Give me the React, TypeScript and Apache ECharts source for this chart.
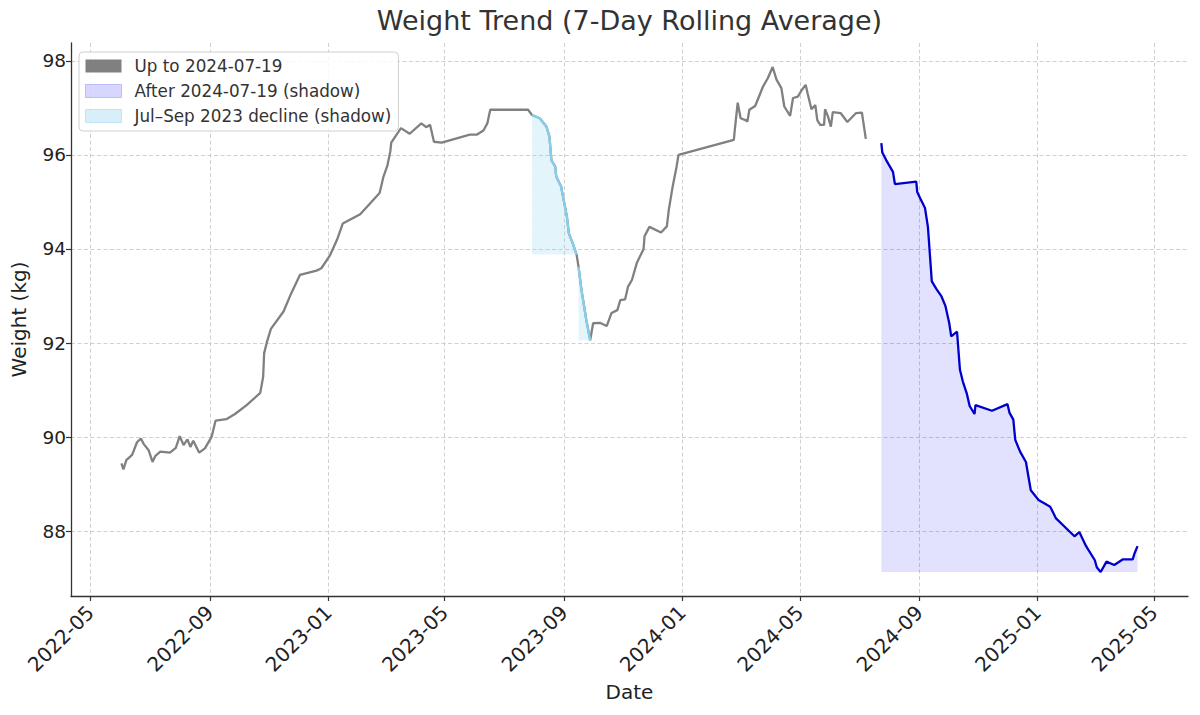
import { useEffect, useRef } from "react";
import * as echarts from "echarts";

const FONT = "DejaVu Sans";

// Gray line before the Jul–Sep 2023 decline
const preDates = [
  "2022-06-02", "2022-06-04", "2022-06-07", "2022-06-13", "2022-06-18", "2022-06-22", "2022-06-25", "2022-06-30",
  "2022-07-04", "2022-07-07", "2022-07-12", "2022-07-22", "2022-07-28", "2022-08-01", "2022-08-05", "2022-08-09",
  "2022-08-12", "2022-08-15", "2022-08-21", "2022-08-27", "2022-09-03", "2022-09-07", "2022-09-18", "2022-09-27",
  "2022-10-09", "2022-10-23", "2022-10-26", "2022-10-27", "2022-10-30", "2022-11-03", "2022-11-16", "2022-11-24",
  "2022-12-03", "2022-12-20", "2022-12-25", "2023-01-03", "2023-01-10", "2023-01-16", "2023-02-03", "2023-02-23",
  "2023-02-27", "2023-03-03", "2023-03-06", "2023-03-07", "2023-03-17", "2023-03-26", "2023-04-07", "2023-04-12",
  "2023-04-16", "2023-04-20", "2023-04-28", "2023-05-27", "2023-06-03", "2023-06-10", "2023-06-14", "2023-06-17",
  "2023-07-26",
];
const preWeights = [
  89.44, 89.31, 89.51, 89.62, 89.89, 89.97, 89.85, 89.72,
  89.47, 89.6, 89.69, 89.67, 89.77, 90.02, 89.83, 89.95,
  89.79, 89.92, 89.67, 89.76, 90.01, 90.35, 90.38, 90.49,
  90.68, 90.94, 91.28, 91.78, 92.03, 92.3, 92.67, 93.06,
  93.45, 93.54, 93.59, 93.87, 94.19, 94.54, 94.74, 95.19,
  95.54, 95.77, 96.07, 96.26, 96.57, 96.45, 96.67, 96.59,
  96.64, 96.28, 96.26, 96.43, 96.43, 96.52, 96.67, 96.96,
  96.96,
];

// Jul–Sep 2023 decline (two shaded stretches)
const declineADates = [
  "2023-07-30", "2023-08-07", "2023-08-14", "2023-08-17", "2023-08-19", "2023-08-23", "2023-08-24",
  "2023-08-29", "2023-09-02", "2023-09-04", "2023-09-06", "2023-09-10", "2023-09-14",
];
const declineAWeights = [96.85, 96.78, 96.6, 96.39, 95.89, 95.75, 95.54, 95.33, 94.9, 94.69, 94.33, 94.12, 93.88];
const declineBDates = ["2023-09-16", "2023-09-19", "2023-09-24", "2023-09-28"];
const declineBWeights = [93.62, 93.13, 92.49, 92.06];

// Gray line after the decline, up to July 2024
const postDates = [
  "2023-10-01", "2023-10-08", "2023-10-15", "2023-10-20", "2023-10-26", "2023-10-29", "2023-11-03", "2023-11-06",
  "2023-11-10", "2023-11-15", "2023-11-22", "2023-11-23", "2023-11-28", "2023-12-10", "2023-12-16", "2023-12-18",
  "2023-12-22", "2023-12-26", "2023-12-28", "2024-02-23", "2024-02-24", "2024-02-27", "2024-03-01", "2024-03-06",
  "2024-03-08", "2024-03-10", "2024-03-16", "2024-03-24", "2024-03-29", "2024-04-03", "2024-04-07", "2024-04-12",
  "2024-04-15", "2024-04-21", "2024-04-24", "2024-04-29", "2024-05-03", "2024-05-07", "2024-05-09", "2024-05-13",
  "2024-05-17", "2024-05-19", "2024-05-22", "2024-05-26", "2024-05-27", "2024-05-30", "2024-06-02", "2024-06-04",
  "2024-06-12", "2024-06-19", "2024-06-28", "2024-07-04", "2024-07-08",
];
const postWeights = [
  92.42, 92.43, 92.36, 92.64, 92.7, 92.91, 92.93, 93.2,
  93.34, 93.7, 94.0, 94.27, 94.47, 94.35, 94.48, 94.83,
  95.33, 95.75, 96.0, 96.32, 96.53, 97.11, 96.78, 96.74,
  96.71, 96.96, 97.04, 97.45, 97.63, 97.87, 97.6, 97.42,
  97.03, 96.83, 97.21, 97.24, 97.38, 97.49, 97.31, 96.97,
  97.06, 96.74, 96.64, 96.64, 96.97, 96.82, 96.6, 96.91,
  96.89, 96.7, 96.89, 96.9, 96.34,
];

// Blue line after 2024-07-19
const afterDates = [
  "2024-07-24", "2024-07-25", "2024-07-29", "2024-08-05", "2024-08-07", "2024-08-29", "2024-08-30", "2024-09-02",
  "2024-09-07", "2024-09-10", "2024-09-14", "2024-09-19", "2024-09-24", "2024-09-28", "2024-10-02", "2024-10-04",
  "2024-10-10", "2024-10-13", "2024-10-16", "2024-10-20", "2024-10-23", "2024-10-28", "2024-10-29", "2024-11-15",
  "2024-12-01", "2024-12-03", "2024-12-07", "2024-12-09", "2024-12-14", "2024-12-20", "2024-12-25", "2025-01-02",
  "2025-01-14", "2025-01-20", "2025-02-08", "2025-02-13", "2025-02-20", "2025-03-01", "2025-03-03", "2025-03-07",
  "2025-03-13", "2025-03-21", "2025-03-30", "2025-04-09", "2025-04-11", "2025-04-14",
];
const afterWeights = [
  96.25, 96.05, 95.89, 95.64, 95.38, 95.43, 95.21, 95.08,
  94.87, 94.47, 93.31, 93.14, 92.99, 92.79, 92.42, 92.14,
  92.24, 91.43, 91.18, 90.93, 90.66, 90.49, 90.68, 90.56,
  90.7, 90.52, 90.37, 89.94, 89.69, 89.47, 88.87, 88.66,
  88.52, 88.27, 87.89, 87.98, 87.68, 87.38, 87.23, 87.13,
  87.35, 87.28, 87.4, 87.4, 87.53, 87.68,
];

const xTickLabels = [
  "2022-05", "2022-09", "2023-01", "2023-05", "2023-09",
  "2024-01", "2024-05", "2024-09", "2025-01", "2025-05",
];
const yTicks = [88, 90, 92, 94, 96, 98];

const X_MIN = "2022-04-11";
const X_MAX = "2025-06-05";
const Y_MIN = 86.62;
const Y_MAX = 98.38;

const NAME_UP = "Up to 2024-07-19";
const NAME_AFTER = "After 2024-07-19 (shadow)";
const NAME_DECLINE = "Jul–Sep 2023 decline (shadow)";

const toTs = (d: string) => {
  const [y, m, dd] = d.split("-").map(Number);
  return Date.UTC(y, m - 1, dd || 1);
};
const pairs = (dates: string[], vals: number[]) => dates.map((d, i) => [toTs(d), vals[i]]);
const fmtMonth = (v: number) => {
  const dt = new Date(v);
  return `${dt.getUTCFullYear()}-${String(dt.getUTCMonth() + 1).padStart(2, "0")}`;
};

export default function App() {
  const ref = useRef<HTMLDivElement>(null);
  useEffect(() => {
    const chart = echarts.init(ref.current!, null, { renderer: "svg" });
    const grayData = [
      ...pairs(preDates, preWeights),
      ...pairs(declineADates, declineAWeights),
      ...pairs(declineBDates, declineBWeights),
      ...pairs(postDates, postWeights),
    ];
    const xTickValues = xTickLabels.map((s) => toTs(s));
    const axisColor = "#333333";
    const gridLine = { show: true, lineStyle: { color: "#c4c4c4", width: 0.8, type: [4, 2.5] as any } };
    chart.setOption({
      animation: false,
      backgroundColor: "#ffffff",
      textStyle: { fontFamily: FONT },
      title: {
        text: "Weight Trend (7-Day Rolling Average)",
        left: 629.5,
        top: 7,
        textAlign: "center",
        padding: 0,
        textStyle: { fontFamily: FONT, fontSize: 27, fontWeight: "normal", color: "#333333" },
      },
      legend: {
        orient: "vertical",
        left: 79,
        top: 52,
        itemWidth: 36,
        itemHeight: 13,
        itemGap: 7,
        padding: [5, 7, 6, 6],
        borderColor: "#d0d0d0",
        borderWidth: 1,
        borderRadius: 4,
        backgroundColor: "rgba(255,255,255,0.85)",
        textStyle: { fontFamily: FONT, fontSize: 16.8, color: "#333333", lineHeight: 18, padding: [0, 0, 0, 8] },
        data: [
          { name: NAME_UP, icon: "rect", itemStyle: { color: "#808080" } },
          {
            name: NAME_AFTER,
            icon: "rect",
            itemStyle: { color: "rgba(0,0,255,0.16)", borderColor: "rgba(0,0,255,0.2)", borderWidth: 1 },
          },
          {
            name: NAME_DECLINE,
            icon: "rect",
            itemStyle: { color: "rgba(135,206,235,0.32)", borderColor: "rgba(135,206,235,0.45)", borderWidth: 1 },
          },
        ],
      },
      grid: { left: 71, right: 12, top: 43, bottom: 119, containLabel: false },
      xAxis: {
        type: "value",
        min: toTs(X_MIN),
        max: toTs(X_MAX),
        name: "Date",
        nameLocation: "middle",
        nameGap: 86,
        nameTextStyle: { fontFamily: FONT, fontSize: 20, color: "#222222" },
        axisLine: { show: true, onZero: false, lineStyle: { color: axisColor, width: 1.3 } },
        axisTick: { show: true, length: 5, customValues: xTickValues, lineStyle: { color: axisColor, width: 1.2 } },
        axisLabel: {
          customValues: xTickValues,
          formatter: (v: number) => fmtMonth(v),
          rotate: 45,
          margin: 13,
          fontFamily: FONT,
          fontSize: 20,
          color: "#222222",
        },
        splitLine: gridLine,
      },
      yAxis: {
        type: "value",
        min: Y_MIN,
        max: Y_MAX,
        name: "Weight (kg)",
        nameLocation: "middle",
        nameGap: 42,
        nameTextStyle: { fontFamily: FONT, fontSize: 20, color: "#222222" },
        axisLine: { show: true, onZero: false, lineStyle: { color: axisColor, width: 1.3 } },
        axisTick: { show: true, length: 5, customValues: yTicks, lineStyle: { color: axisColor, width: 1.2 } },
        axisLabel: {
          customValues: yTicks,
          formatter: (v: number) => String(Math.round(v)),
          margin: 5,
          fontFamily: FONT,
          fontSize: 18.5,
          color: "#222222",
        },
        splitLine: gridLine,
      },
      series: [
        {
          name: NAME_UP,
          type: "line",
          data: grayData,
          showSymbol: false,
          symbol: "none",
          lineStyle: { color: "#808080", width: 2.3 },
          itemStyle: { color: "#808080" },
          z: 2,
        },
        {
          name: NAME_DECLINE,
          type: "line",
          data: pairs(declineADates, declineAWeights),
          showSymbol: false,
          symbol: "none",
          lineStyle: { color: "#87CEEB", width: 2.3 },
          itemStyle: { color: "#87CEEB" },
          areaStyle: { color: "rgba(135,206,235,0.32)", origin: Math.min(...declineAWeights) },
          z: 3,
        },
        {
          name: NAME_DECLINE,
          type: "line",
          data: pairs(declineBDates, declineBWeights),
          showSymbol: false,
          symbol: "none",
          lineStyle: { color: "#87CEEB", width: 2.3 },
          itemStyle: { color: "#87CEEB" },
          areaStyle: { color: "rgba(135,206,235,0.32)", origin: Math.min(...declineBWeights) },
          z: 3,
        },
        {
          name: NAME_AFTER,
          type: "line",
          data: pairs(afterDates, afterWeights),
          showSymbol: false,
          symbol: "none",
          lineStyle: { color: "#0000CD", width: 2.3 },
          itemStyle: { color: "#0000CD" },
          areaStyle: { color: "rgba(0,0,255,0.16)", origin: Math.min(...afterWeights) },
          z: 3,
        },
      ],
    });
    return () => chart.dispose();
  }, []);
  return (
    <div
      ref={ref}
      style={{ position: "absolute", left: 0, top: 0, width: 1200, height: 715 }}
    />
  );
}
